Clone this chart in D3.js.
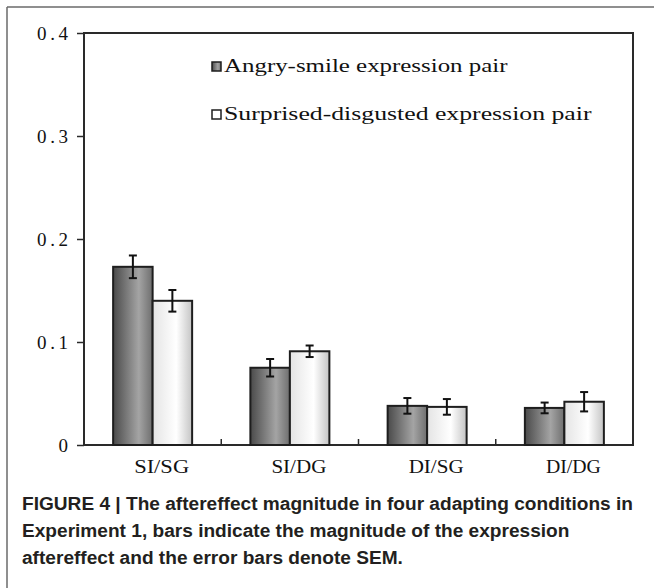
<!DOCTYPE html>
<html><head><meta charset="utf-8">
<script src="https://cdn.jsdelivr.net/npm/d3@7"></script>
<style>html,body{margin:0;padding:0;background:#fff;}svg{display:block;}</style>
</head><body>
<svg id="chart" width="654" height="588"></svg>
<script>
const categories = ["SI/SG", "SI/DG", "DI/SG", "DI/DG"];
const seriesNames = ["Angry-smile expression pair", "Surprised-disgusted expression pair"];
const angryValues = [0.173, 0.075, 0.038, 0.036];
const angryErrors = [0.011, 0.0085, 0.0076, 0.0052];
const surprisedValues = [0.140, 0.091, 0.037, 0.042];
const surprisedErrors = [0.0105, 0.0056, 0.0076, 0.0094];
const yTicks = [0, 0.1, 0.2, 0.3, 0.4];
const yTickLabels = ["0", "0.1", "0.2", "0.3", "0.4"];
const captionLines = [
  "FIGURE 4 | The aftereffect magnitude in four adapting conditions in",
  "Experiment 1, bars indicate the magnitude of the expression",
  "aftereffect and the error bars denote SEM."
];

const svg = d3.select("#chart");
const L = 84, R = 633, T = 33, B = 445;
const serif = "'Liberation Serif', 'DejaVu Serif', serif";

// outer figure frame
svg.append("line").attr("x1", 7).attr("x2", 654).attr("y1", 7).attr("y2", 7)
  .attr("stroke", "#6a6a6a").attr("stroke-width", 1.5);
svg.append("line").attr("x1", 7).attr("x2", 7).attr("y1", 7).attr("y2", 588)
  .attr("stroke", "#6a6a6a").attr("stroke-width", 1.5);

const defs = svg.append("defs");
function grad(id, stops) {
  const g = defs.append("linearGradient").attr("id", id)
    .attr("x1", "0%").attr("x2", "100%").attr("y1", "0%").attr("y2", "0%");
  stops.forEach(s => g.append("stop").attr("offset", s[0]).attr("stop-color", s[1]));
}
grad("gDark", [["0%", "#4a4a4a"], ["65%", "#a4a4a4"], ["100%", "#6e6e6e"]]);
grad("gLight", [["0%", "#e4e4e4"], ["60%", "#ffffff"], ["100%", "#c4c4c4"]]);

const y = d3.scaleLinear().domain([0, 0.4]).range([B, T]);
const x = d3.scaleBand().domain(categories).range([L, R]).paddingInner(0).paddingOuter(0);
const pairW = 79;
const xs = d3.scaleBand().domain(seriesNames).range([0, pairW]).padding(0);

const data = categories.map((c, i) => ({
  cat: c,
  vals: [
    {s: seriesNames[0], v: angryValues[i], e: angryErrors[i], fill: "url(#gDark)"},
    {s: seriesNames[1], v: surprisedValues[i], e: surprisedErrors[i], fill: "url(#gLight)"}
  ]
}));

// plot frame
svg.append("rect").attr("x", L).attr("y", T).attr("width", R - L).attr("height", B - T)
  .attr("fill", "none").attr("stroke", "#2a2a2a").attr("stroke-width", 2);

// y axis
const yAxis = d3.axisLeft(y).tickValues(yTicks)
  .tickFormat((d, i) => yTickLabels[i]).tickSize(7).tickPadding(9);
const ga = svg.append("g").attr("transform", `translate(${L},0)`).call(yAxis);
ga.select(".domain").remove();
ga.selectAll(".tick line").attr("stroke", "#2a2a2a").attr("stroke-width", 1.5);
ga.selectAll(".tick text").attr("font-family", serif).attr("font-size", 19)
  .attr("fill", "#111")
  .each(function(d, i) {
    const t = yTickLabels[i];
    if (t.length > 1) d3.select(this).attr("textLength", 31).attr("lengthAdjust", "spacing");
  });

// x category separators (inward ticks)
svg.append("g").selectAll("line").data(categories.slice(1)).join("line")
  .attr("x1", d => x(d)).attr("x2", d => x(d))
  .attr("y1", B).attr("y2", B - 6)
  .attr("stroke", "#2a2a2a").attr("stroke-width", 1.5);

// x labels
svg.append("g").selectAll("text").data(categories).join("text")
  .attr("x", d => x(d) + x.bandwidth() / 2 + 9 - d.length * 11 / 2)
  .attr("y", 473)
  .attr("font-family", serif).attr("font-size", 19).attr("fill", "#111")
  .attr("textLength", d => d.length * 11).attr("lengthAdjust", "spacingAndGlyphs")
  .text(d => d);

// bars
const groups = svg.append("g").selectAll("g").data(data).join("g")
  .attr("transform", d => `translate(${x(d.cat) + (x.bandwidth() - pairW) / 2},0)`);
groups.selectAll("rect").data(d => d.vals).join("rect")
  .attr("x", d => xs(d.s)).attr("width", xs.bandwidth())
  .attr("y", d => y(d.v)).attr("height", d => B - y(d.v))
  .attr("fill", d => d.fill).attr("stroke", "#1e1e1e").attr("stroke-width", 2);

// error bars
const capW = 4;
const eb = groups.selectAll("g.err").data(d => d.vals).join("g").attr("class", "err");
eb.append("line")
  .attr("x1", d => xs(d.s) + xs.bandwidth() / 2).attr("x2", d => xs(d.s) + xs.bandwidth() / 2)
  .attr("y1", d => y(d.v + d.e)).attr("y2", d => y(d.v - d.e));
eb.append("line")
  .attr("x1", d => xs(d.s) + xs.bandwidth() / 2 - capW).attr("x2", d => xs(d.s) + xs.bandwidth() / 2 + capW)
  .attr("y1", d => y(d.v + d.e)).attr("y2", d => y(d.v + d.e));
eb.append("line")
  .attr("x1", d => xs(d.s) + xs.bandwidth() / 2 - capW).attr("x2", d => xs(d.s) + xs.bandwidth() / 2 + capW)
  .attr("y1", d => y(d.v - d.e)).attr("y2", d => y(d.v - d.e));
eb.selectAll("line").attr("stroke", "#111").attr("stroke-width", 2);

// legend
const legend = svg.append("g").attr("transform", "translate(212,0)");
const legY = [72, 120];
const legFill = ["url(#gDark)", "#ffffff"];
seriesNames.forEach((s, i) => {
  legend.append("rect").attr("x", 0).attr("y", legY[i] - 10).attr("width", 9).attr("height", 9)
    .attr("fill", legFill[i]).attr("stroke", "#1e1e1e").attr("stroke-width", 1.5);
  legend.append("text").attr("x", 12).attr("y", legY[i])
    .attr("font-family", serif).attr("font-size", 19).attr("fill", "#111")
    .attr("textLength", s.length * 10.5).attr("lengthAdjust", "spacingAndGlyphs")
    .text(s);
});

// caption
const cap = svg.append("g");
const capFs = 18;
const capBase = [510, 537, 564];
const capTexts = captionLines.map((t, i) => cap.append("text")
  .attr("x", 22).attr("y", capBase[i])
  .attr("font-family", "'Liberation Sans', Arial, Helvetica, sans-serif")
  .attr("font-weight", "bold").attr("font-size", capFs).attr("fill", "#231f20")
  .text(t));
const w0 = capTexts[0].node().getComputedTextLength();
const ratio = 611 / w0;
capTexts.forEach(t => {
  const w = t.node().getComputedTextLength();
  t.attr("textLength", w * ratio).attr("lengthAdjust", "spacingAndGlyphs");
});
</script>
</body></html>
